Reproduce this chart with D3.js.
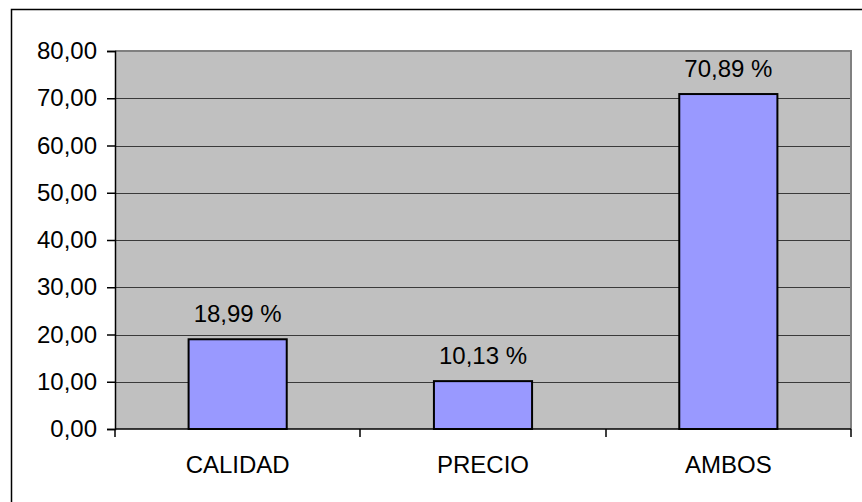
<!DOCTYPE html>
<html>
<head>
<meta charset="utf-8">
<script src="https://cdn.jsdelivr.net/npm/d3@7"></script>
<style>
  html, body { margin: 0; padding: 0; background: #fff; }
  svg { display: block; }
  text { font-family: "Liberation Sans", Arial, sans-serif; fill: #000; }
</style>
</head>
<body>
<svg id="chart" width="862" height="502"></svg>
<script>
// Preferencia: calidad, precio o ambos (porcentaje)
const categories = ["CALIDAD", "PRECIO", "AMBOS"];
const values = [18.99, 10.13, 70.89];
const yTicks = [0, 10, 20, 30, 40, 50, 60, 70, 80];

const svg = d3.select("#chart");
const W = 862, H = 502;
const plot = { left: 115, top: 51, right: 851, bottom: 429 };
const fontSize = 24;

const fmt = v => d3.format(".2f")(v).replace(".", ",");

// Chart frame
svg.append("rect")
  .attr("x", 11.5).attr("y", 9.5)
  .attr("width", W + 10).attr("height", H + 10)
  .attr("fill", "none").attr("stroke", "#000").attr("stroke-width", 1.5);

const x = d3.scaleBand()
  .domain(categories)
  .range([plot.left, plot.right])
  .paddingInner(0.6).paddingOuter(0.3);

const y = d3.scaleLinear().domain([0, 80]).range([plot.bottom, plot.top]);

// Plot area
svg.append("rect")
  .attr("x", plot.left).attr("y", plot.top)
  .attr("width", plot.right - plot.left).attr("height", plot.bottom - plot.top)
  .attr("fill", "#C0C0C0");

// Gridlines
svg.append("g").selectAll("line")
  .data(yTicks.filter(t => t > 0 && t < 80))
  .join("line")
  .attr("x1", plot.left).attr("x2", plot.right)
  .attr("y1", d => Math.round(y(d)) + 0.5).attr("y2", d => Math.round(y(d)) + 0.5)
  .attr("stroke", "#3a3a3a").attr("stroke-width", 1);

// Plot border (top and right)
svg.append("path")
  .attr("d", `M${plot.left},${plot.top} H${plot.right} V${plot.bottom}`)
  .attr("fill", "none").attr("stroke", "#808080").attr("stroke-width", 2);

// Bars
svg.append("g").selectAll("rect")
  .data(categories.map((c, i) => ({ c, v: values[i] })))
  .join("rect")
  .attr("x", d => x(d.c))
  .attr("y", d => y(d.v))
  .attr("width", x.bandwidth())
  .attr("height", d => y(0) - y(d.v))
  .attr("fill", "#9999FF")
  .attr("stroke", "#000").attr("stroke-width", 2);

// Value labels
svg.append("g").selectAll("text")
  .data(categories.map((c, i) => ({ c, v: values[i] })))
  .join("text")
  .attr("x", d => x(d.c) + x.bandwidth() / 2)
  .attr("y", d => y(d.v) - 17)
  .attr("text-anchor", "middle")
  .attr("font-size", fontSize)
  .text(d => fmt(d.v) + " %");

// Y axis
const yAxis = d3.axisLeft(y).tickValues(yTicks).tickSize(8).tickPadding(10).tickFormat(fmt);
const gy = svg.append("g").attr("transform", `translate(${plot.left},0)`).call(yAxis);
gy.select(".domain").attr("stroke", "#000").attr("stroke-width", 1.5);
gy.selectAll(".tick line").attr("stroke", "#000").attr("stroke-width", 1.5);
gy.selectAll(".tick text")
  .attr("font-size", fontSize)
  .attr("font-family", "Liberation Sans, Arial, sans-serif")
  .attr("fill", "#000");

// X axis
const step = x.step();
const boundaries = [plot.left, plot.left + (plot.right - plot.left) / 3, plot.left + 2 * (plot.right - plot.left) / 3, plot.right];
const gx = svg.append("g");
gx.append("line")
  .attr("x1", plot.left).attr("x2", plot.right)
  .attr("y1", plot.bottom).attr("y2", plot.bottom)
  .attr("stroke", "#000").attr("stroke-width", 1.5);
gx.selectAll("line.tk")
  .data(boundaries)
  .join("line").attr("class", "tk")
  .attr("x1", d => Math.round(d)).attr("x2", d => Math.round(d))
  .attr("y1", plot.bottom).attr("y2", plot.bottom + 8)
  .attr("stroke", "#000").attr("stroke-width", 1.5);
gx.selectAll("text")
  .data(categories)
  .join("text")
  .attr("x", d => x(d) + x.bandwidth() / 2)
  .attr("y", 473)
  .attr("text-anchor", "middle")
  .attr("font-size", fontSize)
  .text(d => d);
</script>
</body>
</html>
